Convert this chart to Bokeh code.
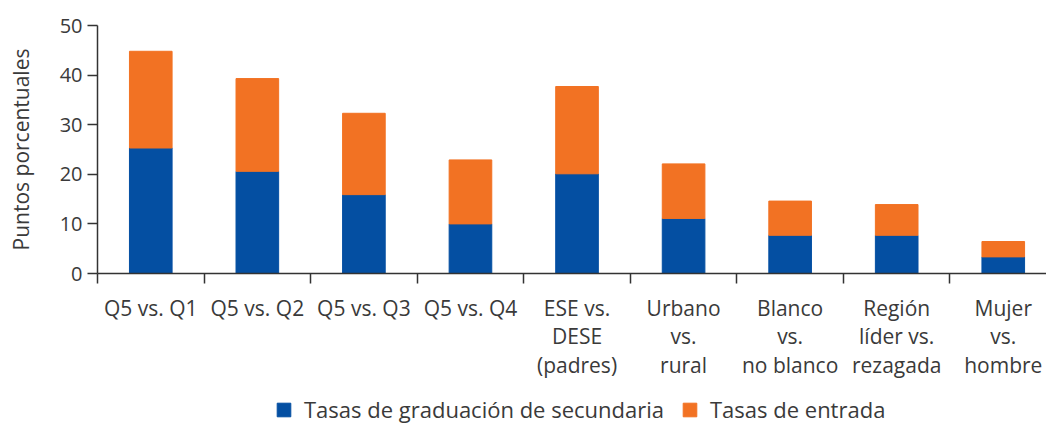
from bokeh.plotting import figure
from bokeh.layouts import column
from bokeh.models import ColumnDataSource, FixedTicker, Range1d, Legend, LegendItem
from bokeh.embed import file_html
from bokeh.resources import INLINE

categories = ["Q5 vs. Q1", "Q5 vs. Q2", "Q5 vs. Q3", "Q5 vs. Q4",
              "ESE vs.\nDESE\n(padres)", "Urbano\nvs.\nrural",
              "Blanco\nvs.\nno blanco", "Región\nlíder vs.\nrezagada",
              "Mujer\nvs.\nhombre"]
graduacion = [25.3, 20.6, 15.9, 10.0, 20.1, 11.1, 7.7, 7.7, 3.35]
entrada = [19.5, 18.7, 16.4, 12.9, 17.6, 11.0, 6.9, 6.2, 3.1]
series_names = ["Tasas de graduación de secundaria", "Tasas de entrada"]
y_ticks = [0, 10, 20, 30, 40, 50]

BLUE = "#044FA2"
ORANGE = "#F27223"
TXT = "#3a3a3a"
FONT = "Open Sans"

xs = list(range(len(categories)))
source = ColumnDataSource(dict(x=xs, graduacion=graduacion, entrada=entrada))

left = 97
frame_w = 949
spacing = 106.56
x_end = -0.5 + frame_w / spacing

p = figure(frame_width=frame_w, frame_height=248, output_backend="svg", toolbar_location=None,
           x_range=Range1d(-0.5, x_end), y_range=Range1d(0, 50),
           min_border_left=left, min_border_right=0, min_border_top=25,
           min_border_bottom=110)
p.outline_line_color = None
p.grid.grid_line_color = None

rs = p.vbar_stack(["graduacion", "entrada"], x="x", width=0.4,
                  color=[BLUE, ORANGE], source=source)

# x axis
xa = p.xaxis[0]
xa.ticker = FixedTicker(ticks=xs, minor_ticks=[i - 0.5 for i in range(len(categories) + 1)])
xa.major_label_overrides = {i: c for i, c in enumerate(categories)}
xa.major_tick_out = 0
xa.major_tick_in = 0
xa.minor_tick_out = 10
xa.minor_tick_in = 0
xa.minor_tick_line_color = "#333333"
xa.minor_tick_line_width = 1.5
xa.axis_line_color = "#333333"
xa.axis_line_width = 1.5
xa.major_label_standoff = 10
xa.major_label_text_font = FONT
xa.major_label_text_font_size = "21px"
xa.major_label_text_color = TXT
xa.major_label_text_line_height = 1.03

# y axis
ya = p.yaxis[0]
ya.ticker = FixedTicker(ticks=y_ticks)
ya.minor_tick_line_color = None
ya.major_tick_out = 10
ya.major_tick_in = 0
ya.major_tick_line_color = "#333333"
ya.major_tick_line_width = 1.5
ya.axis_line_color = "#333333"
ya.axis_line_width = 1.5
ya.major_label_standoff = 5
ya.major_label_text_font = FONT
ya.major_label_text_font_size = "20px"
ya.major_label_text_color = TXT
ya.axis_label = "Puntos porcentuales"
ya.axis_label_text_font = FONT
ya.axis_label_text_font_size = "21px"
ya.axis_label_text_font_style = "normal"
ya.axis_label_text_color = TXT
ya.axis_label_standoff = 22

# legend strip below the chart (its bars lie outside its view; only the legend shows)
lp = figure(width=left + frame_w, height=41, output_backend="svg", toolbar_location=None,
            x_axis_location=None, y_axis_location=None,
            x_range=Range1d(100, 101), y_range=Range1d(100, 101),
            min_border_left=0, min_border_right=0, min_border_top=0, min_border_bottom=0)
lp.outline_line_color = None
lp.grid.grid_line_color = None
g1 = lp.vbar(x="x", top="graduacion", width=0.4, color=BLUE, source=source)
g2 = lp.vbar(x="x", top="entrada", width=0.4, color=ORANGE, source=source)

legend = Legend(items=[LegendItem(label=series_names[0], renderers=[g1]),
                       LegendItem(label=series_names[1], renderers=[g2])],
                orientation="horizontal", location=(178, 0))
legend.label_text_font = FONT
legend.label_text_font_size = "22px"
legend.label_text_color = TXT
legend.glyph_width = 17
legend.glyph_height = 17
legend.spacing = 17
legend.label_standoff = 12
legend.border_line_color = None
legend.background_fill_alpha = 0
legend.padding = 0
legend.margin = 0
lp.add_layout(legend, "center")

layout = column(p, lp, spacing=0)
open("out.html", "w").write(file_html(layout, INLINE))
